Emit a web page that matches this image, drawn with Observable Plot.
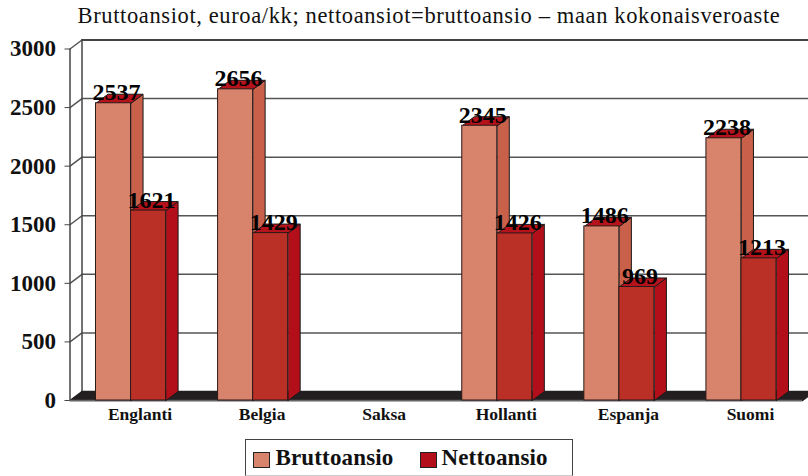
<!DOCTYPE html>
<html><head><meta charset="utf-8">
<script src="https://cdn.jsdelivr.net/npm/d3@7"></script>
<script src="https://cdn.jsdelivr.net/npm/@observablehq/plot@0.6"></script>
<style>
html,body{margin:0;padding:0;background:#fff;width:808px;height:476px;overflow:hidden;font-family:"Liberation Serif",serif;color:#111}
#title{position:absolute;left:0;top:0;width:808px;height:34px;line-height:32px;font-size:22.5px;letter-spacing:.62px;text-align:center;padding-left:50px;box-sizing:border-box;white-space:nowrap}
#chart{position:absolute;left:0;top:34px}
#legend{position:absolute;left:245px;top:439px;width:328px;height:37px;box-sizing:border-box;border:1.5px solid #444;border-bottom-color:#ccc;font-weight:bold;font-size:23px;letter-spacing:.15px}
#legend i{position:absolute;top:11.5px;width:17px;height:16px;box-sizing:border-box;border:1.2px solid #222}
#legend span{position:absolute;top:5px;line-height:26px;white-space:nowrap}
</style></head><body>
<div id="title">Bruttoansiot, euroa/kk; nettoansiot=bruttoansio – maan kokonaisveroaste</div>
<div id="chart"></div>
<div id="legend"></div>
<script>
const categories = ["Englanti","Belgia","Saksa","Hollanti","Espanja","Suomi"];
const bruttoansio = [2537,2656,null,2345,1486,2238];
const nettoansio = [1621,1429,null,1426,969,1213];
const yTicks = [0,500,1000,1500,2000,2500,3000];

const barW = 0.287, depthX = 12/122, depthY = 77;
const series = [
  {name:"Bruttoansio", values:bruttoansio, off:-barW, front:"#d8846c", side:"#c9604a", top:"#b5121b", key:"#d8846c"},
  {name:"Nettoansio", values:nettoansio, off:0, front:"#ba3026", side:"#b30f1a", top:"#b5121b", key:"#b30f1a"}
];
const n = categories.length;

const bars = [];
categories.forEach((c,i)=>series.forEach(s=>{
  if (s.values[i]==null) return;
  bars.push({cat:c, i, v:s.values[i], x1:i+0.5+s.off, x2:i+0.5+s.off+barW, s});
}));
const poly = (id, fill, pts) => pts.map(([x,y])=>({id,fill,x,y}));
const faces = [];
bars.forEach((b,k)=>{
  faces.push(...poly("s"+k,b.s.side,[[b.x2,0],[b.x2+depthX,depthY],[b.x2+depthX,b.v+depthY],[b.x2,b.v]]));
  faces.push(...poly("t"+k,b.s.top,[[b.x1,b.v],[b.x1+depthX,b.v+depthY],[b.x2+depthX,b.v+depthY],[b.x2,b.v]]));
});
const floor = poly("floor","#231f20",[[0,0],[depthX,depthY],[n+depthX,depthY],[n,0]]);
const grid = yTicks.filter(t=>t>0).map(t=>({id:t,pts:[[0,t],[depthX,t+depthY],[n+depthX,t+depthY]]}))
  .flatMap(g=>g.pts.map(([x,y])=>({id:g.id,x,y})));

const plot = Plot.plot({
  width:808, height:396,
  marginLeft:69.5, marginRight:6, marginTop:14.5, marginBottom:30,
  style:{background:"transparent",overflow:"hidden"},
  x:{type:"linear",domain:[0,n],axis:null},
  y:{domain:[0,3000]},
  marks:[
    Plot.line(grid,{x:"x",y:"y",z:"id",stroke:"#555",strokeWidth:1.5}),
    Plot.line([{x:depthX,y:depthY},{x:depthX,y:3000+depthY}],{x:"x",y:"y",stroke:"#444",strokeWidth:1.5}),
    Plot.line([{x:depthX,y:3000+depthY},{x:n+depthX,y:3000+depthY}],{x:"x",y:"y",stroke:"#444",strokeWidth:2}),
    Plot.line(floor,{x:"x",y:"y",z:"id",fill:"#231f20",stroke:"#231f20",curve:"linear-closed"}),
    Plot.ruleX([0],{y1:0,y2:3000,stroke:"#444",strokeWidth:1.5}),
    Plot.ruleY([0],{x1:0,x2:n,stroke:"#666",strokeWidth:1.5}),
    Plot.line(faces,{x:"x",y:"y",z:"id",fill:"fill",stroke:"#1a1a1a",strokeWidth:1,curve:"linear-closed"}),
    Plot.rect(bars,{x1:"x1",x2:"x2",y1:0,y2:"v",fill:d=>d.s.front,stroke:"#2a1a18",strokeWidth:1,inset:0}),
    Plot.axisY({ticks:yTicks,tickFormat:"d",tickSize:5,tickPadding:9,label:null,fontSize:23,fontWeight:"bold",fontFamily:"Liberation Serif",stroke:"#444",color:"#111"}),
    Plot.axisX({ticks:categories.map((_,i)=>i+0.5),tickFormat:t=>categories[t-0.5],tickSize:0,tickPadding:7,dx:9,label:null,fontSize:17.5,fontWeight:"bold",fontFamily:"Liberation Serif",color:"#111"}),
    Plot.text(bars,{x:d=>(d.x1+d.x2)/2,y:"v",text:d=>String(d.v),dx:3,dy:-3,lineAnchor:"bottom",textAnchor:"middle",fontSize:24,fontWeight:"bold",fontFamily:"Liberation Serif",fill:"#000"})
  ]
});
document.getElementById("chart").append(plot);

const legend = document.getElementById("legend");
const lx = [[6.5,29.5],[174,195.5]];
series.forEach((s,i)=>{
  const sw=document.createElement("i"); sw.style.left=lx[i][0]+"px"; sw.style.background=s.key; legend.append(sw);
  const t=document.createElement("span"); t.style.left=lx[i][1]+"px"; t.textContent=s.name; legend.append(t);
});
</script></body></html>
